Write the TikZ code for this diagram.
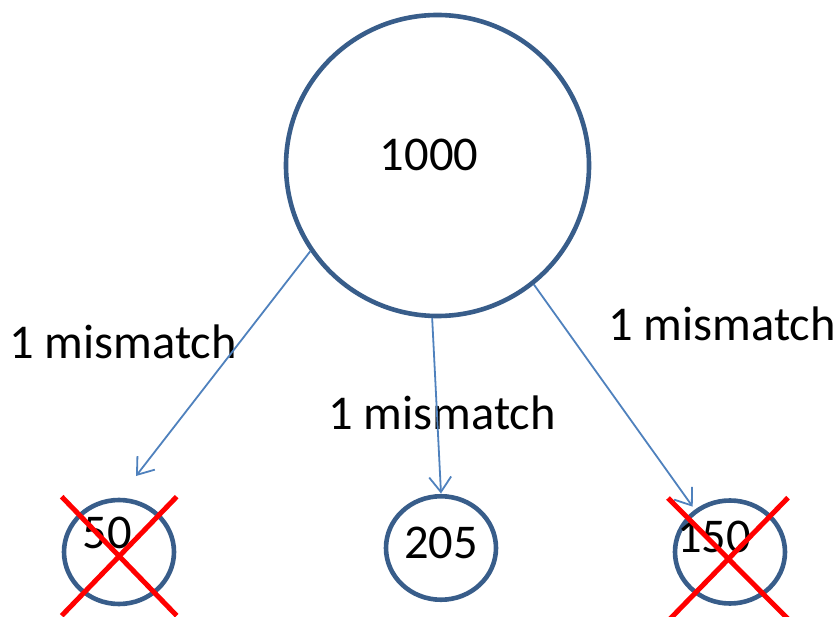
\documentclass[tikz,border=0pt]{standalone}
\usepackage{fontspec}
\setmainfont{Carlito}
\usetikzlibrary{shapes.geometric,arrows.meta}
\definecolor{circblue}{RGB}{56,93,138}
\definecolor{arrblue}{RGB}{79,129,189}
\tikzset{
  ring/.style={ellipse, draw=circblue, line width=4.6pt, inner sep=0pt},
  txt/.style={font=\fontsize{48.5}{52}\selectfont, inner sep=0pt, text=black},
  link/.style={draw=arrblue, line width=1.8pt, -{Straight Barb[length=15pt,width=22pt,line width=1.8pt]}},
  cross/.style={draw=red, line width=5pt}
}
\begin{document}
\begin{tikzpicture}[x=1pt,y=-1pt]
\useasboundingbox (0,0) rectangle (838,617);
\node[ring, minimum width=303pt, minimum height=301pt] (big) at (437.5,165.5) {};
\node[ring, minimum width=110pt, minimum height=104pt] (left) at (119,552) {};
\node[ring, minimum width=110pt, minimum height=103.5pt] (mid) at (441,548) {};
\node[ring, minimum width=110pt, minimum height=103pt] (right) at (730,552) {};
\node[txt] (tbig) at (429,155) {1000};
\node[txt] (tleft) at (107,533) {50};
\node[txt] (tmid) at (441,543) {205};
\node[txt] (tright) at (714,537) {150};
\node[txt] (lleft) at (123,342) {1 mismatch};
\node[txt] (lmid) at (442,413) {1 mismatch};
\node[txt] (lright) at (722,324) {1 mismatch};
\coordinate (eleft) at (136,476);
\coordinate (emid) at (441,493.5);
\coordinate (eright) at (692.7,506.7);
\draw[link] (big.214) -- (eleft);
\draw[link] (big.268) -- (emid);
\draw[link] (big.309) -- (eright);
\coordinate (x1a) at (61.7,496.7);
\coordinate (x1b) at (176.7,615.7);
\coordinate (x1c) at (176.7,496.7);
\coordinate (x1d) at (61.7,615.7);
\coordinate (x2a) at (668,498);
\coordinate (x2b) at (790,621);
\coordinate (x2c) at (788,497.7);
\coordinate (x2d) at (668,621);
\draw[cross] (x1a) -- (x1b);
\draw[cross] (x1c) -- (x1d);
\draw[cross] (x2a) -- (x2b);
\draw[cross] (x2c) -- (x2d);
\end{tikzpicture}
\end{document}
